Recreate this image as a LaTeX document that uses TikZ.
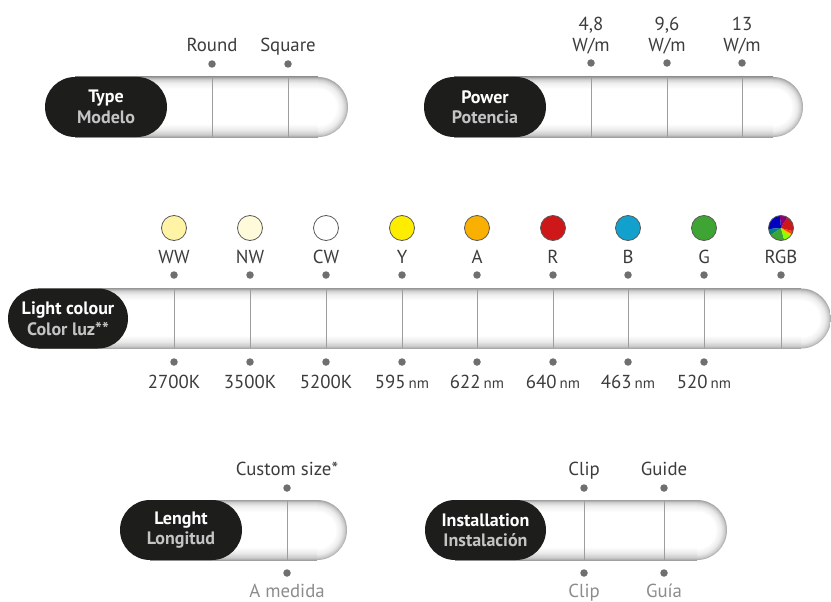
\documentclass[tikz,border=0pt]{standalone}
\usepackage{fontspec}
\setmainfont{PT Sans}
\usetikzlibrary{positioning, calc, shapes.misc}
\definecolor{Ink}{HTML}{3C3C3B}
\definecolor{Pill}{HTML}{1D1D1B}
\definecolor{Sub}{HTML}{C4C4C4}
\definecolor{Muted}{HTML}{8C8C8C}
\definecolor{Dot}{HTML}{6F6F6E}
\definecolor{Rule}{HTML}{9D9D9C}
\definecolor{TubeEdge}{HTML}{A0A0A0}
\definecolor{ledWW}{HTML}{FFF4A5}
\definecolor{ledNW}{HTML}{FFFAD9}
\definecolor{ledCW}{HTML}{FFFFFF}
\definecolor{ledY}{HTML}{FFED00}
\definecolor{ledA}{HTML}{F9B000}
\definecolor{ledR}{HTML}{CD1719}
\definecolor{ledB}{HTML}{12A0CC}
\definecolor{ledG}{HTML}{3EA535}
% sfumature del tubo
\pgfdeclareverticalshading{tubeshade}{100bp}{color(0bp)=(TubeEdge); color(25bp)=(TubeEdge); color(27bp)=(gray!42); color(31bp)=(gray!16); color(36bp)=(white); color(65bp)=(white); color(70bp)=(gray!13); color(73bp)=(gray!36); color(75bp)=(TubeEdge); color(100bp)=(TubeEdge)}
\pgfdeclareradialshading{capshade}{\pgfpoint{0bp}{0bp}}{color(0bp)=(white); color(15bp)=(white); color(20bp)=(gray!15); color(23bp)=(gray!40); color(25bp)=(TubeEdge); color(50bp)=(TubeEdge)}
\tikzset{
    darkpill/.style={rounded rectangle, fill=Pill, text=white, minimum height=60pt, inner sep=0pt, align=center, font=\bfseries\fontsize{18}{20.5}\selectfont},
    lbl/.style={anchor=base, inner sep=0pt, text=Ink, font=\fontsize{18.8}{21}\selectfont},
    sublbl/.style={lbl, text=Muted},
    dot/.style={circle, fill=Dot, inner sep=0pt, minimum size=7.5pt},
    divider/.style={Rule, line width=0.8pt},
    swatch/.style={circle, draw=Ink!85, line width=0.8pt, inner sep=0pt, minimum size=25pt},
}
\newcommand{\unitnm}{{\fontsize{15}{17}\selectfont nm}}
% tubo: #1 x sinistra, #2 x centro calotta, #3 y centro
\newcommand{\drawtube}[3]{%
    \shade[shading=tubeshade] (#1,#3-30) rectangle (#2,#3+30);
    \begin{scope}
        \clip (#2,#3-31) rectangle (#2+31,#3+31);
        \shade[shading=capshade] (#2,#3) circle (30pt);
    \end{scope}
}
\begin{document}
\begin{tikzpicture}[x=1pt, y=-1pt]
    \useasboundingbox (0,0) rectangle (831,602);

    % Modello
    \drawtube{75}{318}{107}
    \foreach \x/\t [count=\i] in {212/Round, 288/Square} {
        \draw[divider] (\x,77) -- (\x,137);
        \node[dot] (ty\i) at (\x,64) {};
        \node[lbl] (tyl\i) at (\x,52) {\t};
    }
    \node[darkpill, minimum width=122pt] (type) at (106,107) {Type\\\textcolor{Sub}{Modelo}};

    % Potenza
    \drawtube{454}{773}{107}
    \foreach \x/\v [count=\i] in {591/{4,8}, 667/{9,6}, 742/13} {
        \draw[divider] (\x,77) -- (\x,137);
        \node[dot] (pw\i) at (\x,63) {};
        \node[lbl] (pwv\i) at (\x,31) {\v};
        \node[lbl] (pwu\i) at (\x,52) {W/m};
    }
    \node[darkpill, minimum width=122pt] (power) at (485,107) {Power\\\textcolor{Sub}{Potencia}};

    % Colore luce
    \drawtube{38}{801}{318.5}
    \foreach \x/\t/\b [count=\i] in {174/WW/2700K, 250/NW/3500K, 326/CW/5200K, 402/Y/{595\,\unitnm}, 477/A/{622\,\unitnm}, 553/R/{640\,\unitnm}, 628/B/{463\,\unitnm}, 704/G/{520\,\unitnm}} {
        \draw[divider] (\x,289) -- (\x,348);
        \node[swatch, fill=led\t] (sw\i) at (\x,228) {};
        \node[lbl] (lct\i) at (\x,263) {\t};
        \node[dot] (lc\i) at (\x,275) {};
        \node[dot] (lcb\i) at (\x,362) {};
        \node[lbl] (lcv\i) at (\x,388) {\b};
    }
    \draw[divider] (781,289) -- (781,348);
    \begin{scope}[shift={(781,228)}, x=1pt, y=1pt]
        \foreach \a/\b/\c in {-40/-15/red!75!yellow, -15/60/ledR, 60/95/red!55!blue, 95/185/blue!75!black, 185/215/blue!50!green, 215/285/ledG, 285/320/green!45!yellow, 320/330/yellow!80!red} {
            \fill[\c] (0,0) -- (\a:12.5) arc (\a:\b:12.5) -- cycle;
        }
    \end{scope}
    \node[swatch] (swrgb) at (781,228) {};
    \node[lbl] (lctrgb) at (781,263) {RGB};
    \node[dot] (lcrgb) at (781,275) {};
    \node[darkpill, minimum width=120pt] (light) at (68,318.5) {Light colour\\\textcolor{Sub}{Color luz**}};

    % Lunghezza
    \drawtube{150}{317}{530}
    \draw[divider] (287,500) -- (287,560);
    \node[dot] (ln1) at (287,488) {};
    \node[dot] (lnb1) at (287,573) {};
    \node[lbl] (lnt1) at (287,475) {Custom size*};
    \node[sublbl] (lns1) at (287,597) {A medida};
    \node[darkpill, minimum width=122pt] (length) at (181,530) {Lenght\\\textcolor{Sub}{Longitud}};

    % Installazione
    \drawtube{455}{697}{530}
    \foreach \x/\t/\s [count=\i] in {584/Clip/Clip, 664/Guide/Guía} {
        \draw[divider] (\x,500) -- (\x,560);
        \node[dot] (in\i) at (\x,488) {};
        \node[dot] (inb\i) at (\x,573) {};
        \node[lbl] (int\i) at (\x,475) {\t};
        \node[sublbl] (ins\i) at (\x,597) {\s};
    }
    \node[darkpill, minimum width=121pt] (install) at (485.5,530) {Installation\\\textcolor{Sub}{Instalación}};
\end{tikzpicture}
\end{document}
